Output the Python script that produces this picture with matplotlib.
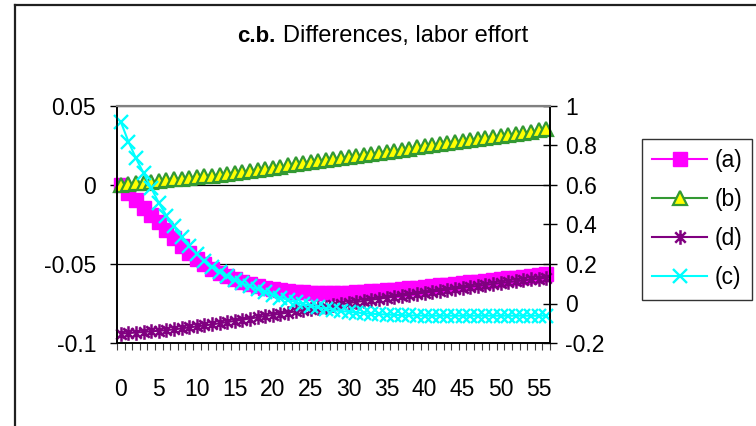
import matplotlib.pyplot as plt
import numpy as np
from matplotlib.lines import Line2D
from matplotlib.path import Path

plt.rcParams['font.family'] = ['Liberation Sans', 'DejaVu Sans']

W, H = 756, 426

# periods 0..56
periods = list(range(57))
xtick_pos = [0, 5, 10, 15, 20, 25, 30, 35, 40, 45, 50, 55]
xtick_lab = [str(v) for v in xtick_pos]

# left axis series
serie_a = [0, -0.0048, -0.0096, -0.0143, -0.019, -0.0237, -0.0284, -0.0333,
           -0.0385, -0.0428, -0.0468, -0.0502, -0.053, -0.0555, -0.0578,
           -0.0598, -0.0614, -0.0628, -0.064, -0.065, -0.0658, -0.0665,
           -0.067, -0.0675, -0.0679, -0.0682, -0.0684, -0.0685, -0.0685,
           -0.0684, -0.0682, -0.068, -0.0677, -0.0674, -0.067, -0.0666,
           -0.0662, -0.0658, -0.0654, -0.065, -0.0646, -0.0641, -0.0636,
           -0.0631, -0.0626, -0.0621, -0.0616, -0.0611, -0.0606, -0.0601,
           -0.0596, -0.0591, -0.0586, -0.0581, -0.0576, -0.0571, -0.0566]
serie_b = [0, 0.0005, 0.001, 0.0015, 0.002, 0.0025, 0.003, 0.0035, 0.004,
           0.0045, 0.005, 0.0055, 0.006, 0.0066, 0.0072, 0.0078, 0.0084,
           0.009, 0.0097, 0.0104, 0.011, 0.0117, 0.0124, 0.0131, 0.0137,
           0.0144, 0.0151, 0.0157, 0.0164, 0.0171, 0.0178, 0.0184, 0.0191,
           0.0198, 0.0204, 0.0211, 0.0218, 0.0224, 0.0231, 0.0238, 0.0245,
           0.0251, 0.0258, 0.0265, 0.0271, 0.0278, 0.0285, 0.0291, 0.0298,
           0.0305, 0.0311, 0.0318, 0.0325, 0.0332, 0.0338, 0.0345, 0.0352]

# right axis series
serie_d = [-0.152, -0.15, -0.147, -0.144, -0.141, -0.138, -0.135, -0.131,
           -0.126, -0.121, -0.116, -0.111, -0.106, -0.1, -0.094, -0.088,
           -0.082, -0.076, -0.07, -0.064, -0.058, -0.052, -0.046, -0.04,
           -0.034, -0.028, -0.022, -0.016, -0.01, -0.004, 0.002, 0.008,
           0.013, 0.019, 0.024, 0.03, 0.035, 0.04, 0.045, 0.05, 0.055, 0.06,
           0.065, 0.07, 0.075, 0.08, 0.085, 0.089, 0.094, 0.099, 0.104,
           0.108, 0.113, 0.117, 0.122, 0.126, 0.131]
serie_c = [0.92, 0.82, 0.735, 0.66, 0.585, 0.51, 0.445, 0.39, 0.338, 0.29,
           0.252, 0.215, 0.185, 0.158, 0.138, 0.118, 0.102, 0.087, 0.073,
           0.059, 0.044, 0.03, 0.018, 0.007, -0.003, -0.012, -0.02, -0.027,
           -0.033, -0.038, -0.042, -0.046, -0.049, -0.052, -0.054, -0.056,
           -0.058, -0.059, -0.06, -0.061, -0.062, -0.062, -0.062, -0.062,
           -0.062, -0.062, -0.062, -0.062, -0.062, -0.062, -0.062, -0.062,
           -0.062, -0.062, -0.062, -0.062, -0.062]

yl_ticks = [-0.1, -0.05, 0, 0.05]
yl_lab = ['-0.1', '-0.05', '0', '0.05']
yr_ticks = [-0.2, 0, 0.2, 0.4, 0.6, 0.8, 1]
yr_lab = ['-0.2', '0', '0.2', '0.4', '0.6', '0.8', '1']

FS = 16.5


# pixel -> figure coords
def fp(x, y):
    return x / W, 1 - y / H


fig = plt.figure(figsize=(W / 100, H / 100), dpi=100)
x0, y0 = fp(117, 343)
ax = fig.add_axes([x0, y0, 433 / W, 237 / H])
ax2 = ax.twinx()

# asterisk marker: vertical bar + cross
etoile = Path([(0, -1), (0, 1), (-0.72, -0.72), (0.72, 0.72),
               (-0.72, 0.72), (0.72, -0.72)],
              [Path.MOVETO, Path.LINETO, Path.MOVETO, Path.LINETO,
               Path.MOVETO, Path.LINETO])

la, = ax.plot(periods, serie_a, color='#FF00FF', lw=1.5, marker='s',
              ms=9.5, mec='#FF00FF', mfc='#FF00FF', clip_on=False)
lb, = ax.plot(periods, serie_b, color='#339933', lw=1.5, marker='^',
              ms=9.5, mec='#339933', mfc='#FFFF00', mew=1.6, clip_on=False)
ld, = ax2.plot(periods, serie_d, color='#800080', lw=1.5, marker=etoile,
               ms=10.5, mec='#800080', mew=1.8, clip_on=False)
lc, = ax2.plot(periods, serie_c, color='#00FFFF', lw=1.5, marker='x',
               ms=9.5, mec='#00FFFF', mew=1.7, clip_on=False)

ax.set_xlim(-0.5, 56.5)
ax.set_ylim(-0.1, 0.05)
ax2.set_ylim(-0.2, 1)

ax.set_xticks(xtick_pos)
ax.set_xticklabels(xtick_lab, fontsize=FS)
ax.set_xticks(np.arange(-0.5, 57, 1), minor=True)
ax.tick_params(axis='x', which='major', length=0, pad=25)
ax.tick_params(axis='x', which='minor', length=5, width=0.8,
               direction='out', color='#404040')

ax.set_yticks(yl_ticks)
ax.set_yticklabels(yl_lab, fontsize=FS)
ax.tick_params(axis='y', length=5, width=1, direction='out', pad=10)
ax.yaxis.grid(True, color='black', lw=0.9)

ax2.set_yticks(yr_ticks)
ax2.set_yticklabels(yr_lab, fontsize=FS)
ax2.tick_params(axis='y', length=10, width=1, direction='inout', pad=6)

for a in (ax, ax2):
    a.spines['top'].set_color('#808080')
    a.spines['top'].set_linewidth(1.5)
    a.spines['left'].set_linewidth(1.2)
    a.spines['right'].set_linewidth(1.2)
    a.spines['bottom'].set_linewidth(1.2)

# titre
fig.text(*fp(237, 42), 'c.b.', fontsize=16, fontweight='bold',
         va='baseline', ha='left')
fig.text(*fp(283, 42), 'Differences, labor effort', fontsize=17,
         va='baseline', ha='left')

leg = fig.legend([la, lb, ld, lc], ['(a)', '(b)', '(d)', '(c)'],
                 loc='upper left', bbox_to_anchor=fp(642, 139),
                 bbox_transform=fig.transFigure, fontsize=FS,
                 frameon=True, fancybox=False, edgecolor='black',
                 borderaxespad=0, borderpad=0.45, handlelength=2.4,
                 handletextpad=0.3, labelspacing=0.7)
leg.get_frame().set_linewidth(1.0)

# cadre du graphique
fig.add_artist(Line2D([15 / W, 15 / W], [1 - 5 / H, 0],
                      transform=fig.transFigure, color='#202020', lw=1.6))
fig.add_artist(Line2D([15 / W, 1], [1 - 5 / H, 1 - 5 / H],
                      transform=fig.transFigure, color='#202020', lw=1.6))

fig.savefig('out.png', dpi=100)
